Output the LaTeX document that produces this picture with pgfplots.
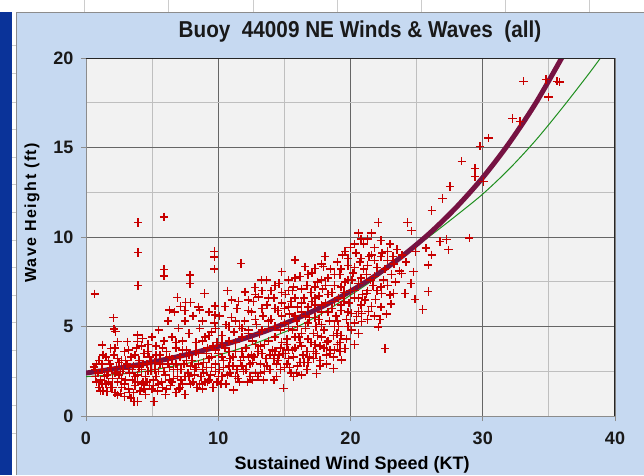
\documentclass[border=0pt]{standalone}
\usepackage{fontspec}
\setmainfont{Liberation Sans}
\newfontfamily\titlefont{Liberation Sans}[FakeStretch=0.9]
\usepackage{pgfplots}
\usepackage{pgfplotstable}
\pgfplotsset{compat=1.18}

\definecolor{chartbg}{HTML}{C6D9F1}
\definecolor{plotbg}{HTML}{F2F2F2}
\definecolor{sidebar}{HTML}{0A3399}
\definecolor{fitmaroon}{HTML}{761242}
\definecolor{fitgreen}{HTML}{1F8F1F}
\definecolor{markred}{HTML}{C80000}

% wind speed (kt), wave height (ft)
\pgfplotstableread{
x y
0.6 2.75
0.66 6.82
0.7 2.2
0.7 2.6
0.8 1.9
0.8 2.9
0.9 2.4
1.0 3.1
1.0 1.6
1.1 2.0
1.1 1.4
1.2 2.6
1.2 1.8
1.2 2.9
1.23 3.97
1.3 1.4
1.3 3.4
1.4 2.2
1.5 3.3
1.5 1.8
1.6 1.36
1.6 2.3
1.7 2.5
1.7 1.9
1.7 3.1
1.8 2.9
1.87 3.78
1.9 1.6
1.9 2.7
2.0 2.1
2.0 1.6
2.07 5.49
2.12 4.86
2.24 4.71
2.1 3.4
2.2 1.3
2.2 2.4
2.2 3.8
2.3 2.7
2.37 1.17
2.37 4.15
2.4 1.9
2.4 3.2
2.5 3.0
2.5 2.3
2.6 2.5
2.62 1.27
2.7 1.6
2.7 2.1
2.7 3.1
2.8 2.6
2.9 3.6
2.9 1.1
2.9 1.8
3.0 2.0
3.0 3.1
3.12 4.15
3.1 2.9
3.2 1.5
3.2 2.6
3.2 3.7
3.3 2.4
3.3 1.3
3.4 3.3
3.4 1.0
3.5 2.0
3.5 2.6
3.63 0.8
3.6 2.8
3.6 1.3
3.7 1.7
3.7 2.2
3.7 3.4
3.8 3.8
3.88 0.8
3.88 4.53
3.88 4.15
3.93 10.8
3.93 9.14
3.93 7.28
3.9 2.3
3.9 1.9
4.0 3.1
4.0 2.7
4.1 1.4
4.2 2.6
4.2 1.8
4.2 3.9
4.26 4.34
4.3 1.9
4.3 2.9
4.4 3.5
4.4 1.5
4.5 2.2
4.5 1.2
4.6 2.9
4.6 1.9
4.7 4.0
4.7 2.5
4.7 3.6
4.8 1.7
4.8 3.3
4.9 2.5
4.9 3.0
5.0 1.5
5.0 4.4
5.14 0.8
5.1 2.0
5.1 1.7
5.2 3.0
5.2 2.6
5.3 3.9
5.3 2.2
5.3 3.4
5.4 1.4
5.5 2.5
5.5 4.8
5.5 1.8
5.6 3.4
5.6 2.9
5.7 1.9
5.8 2.9
5.8 1.6
5.8 3.8
5.9 11.13
5.9 8.19
5.9 7.82
5.9 4.2
5.9 2.5
6.0 1.2
6.0 2.3
6.1 3.6
6.1 1.5
6.2 5.3
6.2 2.9
6.3 2.7
6.3 5.92
6.3 2.0
6.3 3.3
6.4 1.7
6.5 4.4
6.5 3.2
6.5 1.9
6.6 2.1
6.6 2.6
6.7 5.8
6.8 3.8
6.8 1.3
6.8 2.9
6.8 4.1
6.9 6.63
6.9 2.6
6.9 2.2
7.0 1.5
7.0 4.9
7.1 3.3
7.1 1.6
7.16 6.11
7.2 2.0
7.2 2.6
7.3 4.2
7.3 1.8
7.3 3.7
7.4 2.9
7.54 6.33
7.5 5.3
7.5 5.9
7.5 1.2
7.5 2.2
7.6 3.7
7.6 3.1
7.7 2.4
7.86 7.88
7.86 7.41
7.8 4.6
7.8 2.2
7.8 3.4
7.92 6.33
7.9 1.8
7.9 2.8
8.0 3.1
8.1 5.6
8.1 1.9
8.2 2.6
8.2 2.3
8.3 4.1
8.3 2.7
8.3 3.6
8.4 1.6
8.5 6.1
8.5 3.5
8.5 2.9
8.6 4.9
8.6 5.92
8.6 1.8
8.7 2.2
8.8 5.3
8.8 1.5
8.8 2.6
8.8 4.2
8.9 3.0
8.9 2.4
8.97 6.85
9.0 4.4
9.0 1.9
9.1 2.7
9.1 3.5
9.2 3.8
9.2 1.9
9.3 5.8
9.3 2.0
9.3 3.2
9.3 4.5
9.4 2.3
9.5 4.7
9.5 3.3
9.5 2.7
9.6 1.6
9.6 3.9
9.7 9.18
9.7 8.87
9.7 8.2
9.7 5.2
9.75 6.15
9.75 5.64
9.8 2.9
9.8 2.5
9.8 3.7
9.8 4.9
9.9 4.1
9.9 1.9
10.0 3.5
10.0 2.2
10.1 5.6
10.1 2.6
10.2 1.8
10.3 4.5
10.3 2.2
10.3 3.3
10.3 4.0
10.4 2.7
10.4 3.1
10.51 6.11
10.5 3.8
10.6 5.1
10.6 1.8
10.71 7.0
10.7 2.3
10.8 4.2
10.8 2.8
10.8 3.6
10.8 5.0
10.9 3.2
10.9 2.4
11.02 6.48
11.0 5.5
11.14 1.45
11.1 2.8
11.1 3.3
11.2 4.7
11.3 3.6
11.3 2.2
11.3 4.1
11.3 5.3
11.4 6.0
11.4 2.6
11.5 2.1
11.52 6.39
11.6 5.0
11.6 1.9
11.72 8.53
11.7 3.1
11.8 4.4
11.8 2.8
11.8 3.6
11.8 4.9
11.9 2.5
11.9 3.3
12.02 6.94
12.0 5.3
12.1 3.8
12.1 2.6
12.2 1.9
12.27 6.48
12.3 4.8
12.3 3.3
12.3 4.6
12.3 5.9
12.4 2.9
12.4 2.2
12.5 5.8
12.5 3.4
12.6 2.0
12.6 3.0
12.65 6.39
12.6 4.2
12.7 3.3
12.78 7.19
12.8 2.4
12.8 4.0
12.8 5.4
12.8 6.8
12.9 5.1
13.03 6.66
13.0 3.6
13.0 2.2
13.1 4.6
13.2 2.4
13.2 3.9
13.28 7.6
13.2 2.9
13.3 3.5
13.3 4.8
13.3 6.0
13.3 7.0
13.41 2.01
13.4 5.6
13.5 4.0
13.5 2.5
13.66 7.6
13.6 3.2
13.7 6.2
13.7 2.8
13.8 4.9
13.8 4.2
13.8 5.3
13.8 6.6
13.9 2.6
13.9 3.4
14.0 5.4
14.0 7.0
14.1 3.7
14.2 6.6
14.2 2.0
14.2 3.2
14.3 4.4
14.3 3.6
14.3 5.0
14.3 6.0
14.3 7.3
14.4 2.2
14.4 2.9
14.5 5.9
14.5 3.1
14.6 7.4
14.6 3.4
14.7 4.8
14.7 2.6
14.7 3.8
14.8 8.06
14.8 6.3
14.8 4.1
14.8 5.6
14.8 6.9
14.9 3.5
14.92 1.55
15.0 5.2
15.0 2.7
15.0 6.0
15.1 6.8
15.1 3.5
15.2 4.3
15.2 2.9
15.2 4.0
15.3 7.6
15.3 3.2
15.3 3.7
15.3 4.9
15.3 6.1
15.3 7.0
15.4 5.7
15.4 2.7
15.5 2.4
15.5 6.4
15.6 4.8
15.6 7.0
15.6 3.7
15.7 7.2
15.7 2.2
15.7 3.3
15.8 8.72
15.8 3.8
15.8 4.4
15.8 5.6
15.8 6.6
15.8 7.7
15.9 2.4
15.9 5.3
16.0 6.1
16.0 5.0
16.0 2.8
16.1 4.4
16.2 7.8
16.2 3.0
16.2 4.1
16.3 2.29
16.3 5.8
16.3 3.9
16.3 4.6
16.3 6.3
16.3 7.1
16.4 3.4
16.5 6.6
16.5 3.0
16.56 8.34
16.6 4.9
16.6 5.6
16.7 7.3
16.7 2.6
16.7 3.6
16.8 3.0
16.8 4.3
16.8 5.2
16.8 6.1
16.8 7.9
16.9 5.5
16.9 3.3
17.0 6.9
17.0 4.1
17.1 8.0
17.1 6.4
17.2 3.6
17.2 3.2
17.2 4.6
17.32 8.25
17.3 6.2
17.3 4.0
17.3 5.5
17.3 6.6
17.3 7.2
17.44 2.38
17.4 5.0
17.4 3.5
17.5 7.5
17.5 4.5
17.6 6.7
17.6 5.4
17.7 2.8
17.7 3.9
17.7 3.1
17.8 5.8
17.8 4.4
17.8 5.1
17.8 6.2
17.8 7.6
17.8 8.5
17.94 8.34
17.9 7.1
18.0 4.8
18.0 3.8
18.07 8.9
18.1 6.3
18.1 7.3
18.2 3.4
18.2 2.9
18.2 4.1
18.3 7.7
18.3 4.2
18.3 5.8
18.3 6.8
18.4 5.3
18.45 3.69
18.5 8.2
18.5 3.5
18.6 6.0
18.6 6.9
18.7 2.66
18.7 4.5
18.7 3.3
18.8 7.3
18.8 3.7
18.8 5.0
18.8 6.4
18.8 7.9
18.9 5.6
18.96 4.62
19.0 8.6
19.0 4.0
19.0 5.3
19.08 4.99
19.1 6.6
19.2 7.9
19.2 3.6
19.2 4.1
19.33 3.13
19.3 5.9
19.3 4.5
19.3 6.2
19.3 7.2
19.3 8.2
19.4 9.0
19.5 6.9
19.5 6.4
19.58 3.78
19.6 7.5
19.6 9.2
19.7 5.4
19.7 4.3
19.8 8.4
19.8 5.0
19.8 5.8
19.8 7.6
19.8 8.8
19.9 6.3
20.0 9.4
20.0 7.0
20.09 4.8
20.09 5.74
20.1 7.6
20.2 8.0
20.3 6.6
20.3 4.0
20.3 5.2
20.3 7.0
20.3 8.3
20.3 9.6
20.47 5.55
20.4 9.1
20.59 4.62
20.59 5.83
20.59 10.21
20.6 7.4
20.6 6.6
20.7 8.6
20.8 6.2
20.8 7.7
20.8 8.8
20.8 9.9
20.85 5.74
20.85 5.27
20.9 6.8
21.0 9.6
21.0 8.2
21.1 6.48
21.2 6.85
21.2 7.9
21.3 5.4
21.3 7.0
21.3 8.4
21.3 9.9
21.35 5.83
21.4 8.9
21.5 7.6
21.6 6.11
21.6 10.21
21.6 9.0
21.7 7.3
21.8 9.4
21.8 5.6
21.8 7.8
21.8 8.7
21.9 6.5
22.0 7.0
22.1 10.8
22.1 4.96
22.0 8.3
22.23 5.4
22.36 6.85
22.3 6.1
22.3 7.2
22.3 8.9
22.3 9.8
22.4 9.1
22.5 7.6
22.6 8.2
22.61 3.78
22.73 5.70
22.8 8.7
22.8 7.3
22.8 9.2
22.99 6.76
23.0 9.6
23.06 6.26
23.1 7.9
23.2 8.9
23.24 6.85
23.3 8.5
23.41 7.5
23.5 9.3
23.7 8.1
23.87 7.97
23.9 9.0
24.12 6.85
24.2 8.6
24.32 10.8
24.57 7.41
24.62 10.35
24.75 8.06
24.88 6.52
24.9 9.2
25.46 5.96
25.7 9.39
25.88 6.95
25.88 8.44
26.14 8.99
26.14 11.47
26.14 9.01
26.77 9.74
26.97 12.14
27.27 9.85
27.4 9.29
27.52 12.83
28.41 14.23
28.98 9.94
29.41 13.82
29.41 13.39
29.79 15.07
30.05 13.11
30.42 15.53
32.24 16.61
32.82 16.46
33.07 18.70
34.78 18.79
34.96 17.82
35.6 18.7
35.8 18.66
}\buoydata

\begin{document}
\begin{tikzpicture}[x=1pt,y=1pt]
\useasboundingbox (0,0) rectangle (644,475);
\fill[white] (0,0) rectangle (644,475);
% spreadsheet cells around the chart
\foreach \gx in {84,168,253,337,421,505,589}
  \draw[black!20, line width=0.8pt] (\gx,463) -- (\gx,475);
\fill[sidebar] (0,0) rectangle (12,463);
\foreach \gy in {45,73,102,129,157,184,212,240,267,295,322,350,377,405,433}
  \draw[black!20, line width=0.8pt] (12,475-\gy) -- (16,475-\gy);
\fill[chartbg] (16,0) rectangle (644,463);
\draw[black!45, line width=0.8pt] (16,0) -- (16,463) -- (644,463);

\node[font=\titlefont\bfseries\fontsize{23}{24}\selectfont, text=black!90, anchor=base] at (360,437) {Buoy\ \ 44009 NE Winds \& Waves\ \ (all)};

\begin{axis}[
  at={(86pt,59pt)}, anchor=south west,
  width=529pt, height=358pt, scale only axis,
  xmin=0, xmax=40, ymin=0, ymax=20,
  xtick={0,10,20,30,40}, ytick={0,5,10,15,20},
  minor x tick num=1, minor y tick num=1,
  grid=both,
  major grid style={draw=black!60, line width=1pt},
  minor grid style={draw=black!25, line width=0.9pt},
  axis background/.style={fill=plotbg},
  axis line style={draw=black!45, line width=0.9pt},
  tick align=outside, xtick pos=bottom, ytick pos=left,
  major tick length=5pt, minor tick length=0pt,
  tick style={draw=black!45, line width=0.9pt},
  ticklabel style={font=\bfseries\fontsize{18}{18}\selectfont, text=black!90},
  xticklabel style={yshift=-7pt},
  yticklabel style={xshift=-4pt},
  /pgf/number format/assume math mode=true,
  xlabel={Sustained Wind Speed (KT)},
  ylabel={Wave Height (ft)},
  xlabel style={font=\bfseries\fontsize{18}{18}\selectfont, at={(axis description cs:0.503,0)}, anchor=center, yshift=-49pt},
  ylabel style={font=\bfseries\fontsize{16}{16}\selectfont\addfontfeatures{LetterSpace=9}, at={(axis description cs:-0.102,0.567)}, anchor=center},
]
\addplot[only marks, mark=+, mark size=4.2pt, markred, mark options={line width=1.5pt}] table[x=x, y=y] {\buoydata};
\addplot[fitgreen, line width=1pt, smooth] coordinates {
(0,2.2) (2,2.3) (4,2.45) (6,2.7) (8,3.0) (10,3.4) (12,3.85) (14,4.4) (16,5.0)
(18,5.8) (20,6.75) (22,7.75) (24,8.95) (26,10.05) (28,11.2) (30,12.4) (32,13.8)
(34,15.4) (36,17.2) (38,19.1) (39.1,20.2)};
\addplot[fitmaroon, line width=5pt, smooth] coordinates {
(0,2.40) (2,2.62) (4,2.87) (6,3.16) (8,3.50) (10,3.89) (12,4.34) (14,4.86)
(16,5.47) (18,6.16) (20,6.97) (22,7.90) (24,8.98) (26,10.22) (28,11.66)
(30,13.32) (32,15.25) (34,17.47) (36,20.04)};
\draw[black!85, line width=1.3pt] (rel axis cs:0,1) -- (rel axis cs:1,1) -- (rel axis cs:1,0);
\end{axis}
\end{tikzpicture}
\end{document}
